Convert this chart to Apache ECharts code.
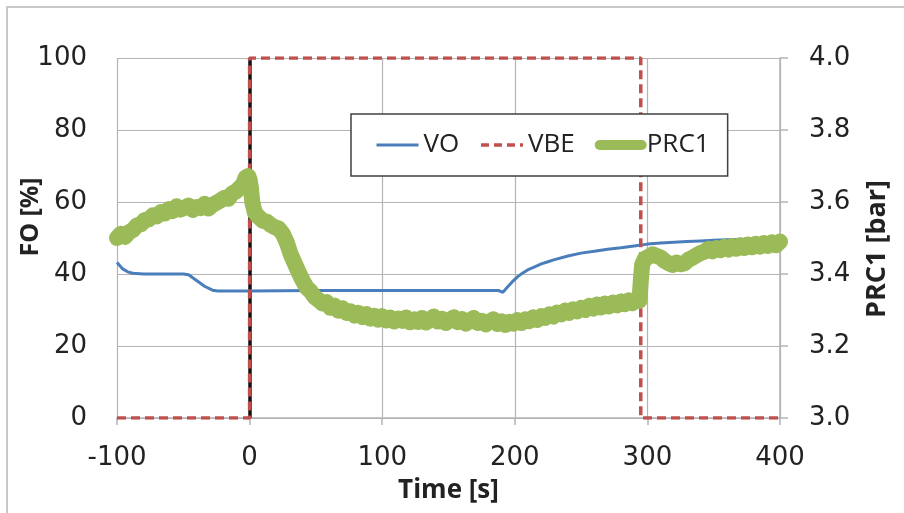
<!DOCTYPE html>
<html>
<head>
<meta charset="utf-8">
<script src="https://cdn.jsdelivr.net/npm/echarts@6/dist/echarts.min.js"></script>
<style>
  html, body { margin: 0; padding: 0; background: #ffffff; }
  #chart { width: 904px; height: 513px; }
</style>
</head>
<body>
<div id="chart"></div>
<script>
// Valve opening VO [%] over time [s]
const voTime = [-100, -96, -92, -88, -80, -70, -60, -50, -46, -40, -34, -28, -24, -10, 0, 50, 100, 150, 188, 191,
  194, 198, 202, 206, 210, 215, 220, 225, 230, 240, 250, 260, 270, 280, 290, 300, 310, 320, 330, 340, 350, 360, 380, 400];
const voValue = [43.2, 41.5, 40.6, 40.2, 40.0, 40.0, 40.0, 40.0, 39.8, 38.2, 36.6, 35.5, 35.3, 35.3, 35.3, 35.4, 35.4, 35.4, 35.4, 34.9,
  36.2, 37.8, 39.2, 40.3, 41.2, 42.0, 42.8, 43.4, 44.0, 45.0, 45.8, 46.3, 46.9, 47.3, 47.8, 48.3, 48.6, 48.8, 49.0, 49.2, 49.4, 49.5, 49.7, 49.9];

// VBE step signal [%]
const vbeTime = [-100, 0, 0, 295, 295, 400];
const vbeValue = [0, 0, 100, 100, 0, 0];

// Pressure PRC1 [bar]
const prcTime = [-100, -97, -94, -91, -88, -85, -82, -79, -76, -73, -70, -67, -64, -61, -58, -55, -52, -49, -46, -43,
  -40, -37, -34, -31, -28, -25, -22, -19, -16, -13, -10, -7, -5, -3, -1, 0, 1, 2, 4, 7,
  10, 13, 16, 19, 22, 25, 28, 31, 34, 37, 40, 43, 46, 49, 52, 55, 58, 61, 64, 67,
  70, 73, 76, 79, 82, 85, 88, 91, 94, 97, 100, 103, 106, 109, 112, 115, 118, 121, 124, 127,
  130, 133, 136, 139, 142, 145, 148, 151, 154, 157, 160, 163, 166, 169, 172, 175, 178, 181, 184, 187,
  190, 193, 196, 199, 202, 205, 208, 211, 214, 217, 220, 223, 226, 229, 232, 235, 238, 241, 244, 247,
  250, 253, 256, 259, 262, 265, 268, 271, 274, 277, 280, 283, 286, 289, 292, 294, 295, 296, 298, 301,
  304, 307, 310, 313, 316, 319, 322, 325, 328, 331, 334, 337, 340, 343, 346, 349, 352, 355, 358, 361,
  364, 367, 370, 373, 376, 379, 382, 385, 388, 391, 394, 397, 400];
const prcValue = [3.500, 3.512, 3.503, 3.516, 3.522, 3.535, 3.538, 3.550, 3.552, 3.563, 3.560, 3.572, 3.568, 3.580, 3.575, 3.588, 3.579, 3.584, 3.590, 3.578,
  3.586, 3.583, 3.595, 3.582, 3.592, 3.598, 3.604, 3.612, 3.609, 3.624, 3.630, 3.641, 3.648, 3.668, 3.672, 3.662, 3.640, 3.600, 3.570, 3.558,
  3.548, 3.545, 3.536, 3.530, 3.526, 3.512, 3.488, 3.455, 3.430, 3.405, 3.382, 3.362, 3.352, 3.336, 3.328, 3.318, 3.322, 3.306, 3.312, 3.298,
  3.305, 3.292, 3.296, 3.285, 3.292, 3.280, 3.289, 3.276, 3.284, 3.273, 3.283, 3.271, 3.279, 3.268, 3.276, 3.270, 3.279, 3.266, 3.274, 3.267,
  3.278, 3.265, 3.273, 3.282, 3.268, 3.276, 3.264, 3.272, 3.280, 3.266, 3.275, 3.262, 3.271, 3.278, 3.264, 3.270, 3.260, 3.268, 3.274, 3.261,
  3.269, 3.258, 3.267, 3.262, 3.272, 3.264, 3.274, 3.269, 3.280, 3.272, 3.283, 3.278, 3.288, 3.282, 3.293, 3.288, 3.298, 3.292, 3.302, 3.296,
  3.306, 3.300, 3.311, 3.304, 3.315, 3.307, 3.318, 3.310, 3.320, 3.313, 3.324, 3.316, 3.327, 3.319, 3.330, 3.326, 3.380, 3.425, 3.442, 3.448,
  3.455, 3.450, 3.446, 3.436, 3.430, 3.425, 3.432, 3.427, 3.430, 3.440, 3.445, 3.452, 3.458, 3.462, 3.470, 3.463, 3.472, 3.466, 3.475, 3.468,
  3.478, 3.470, 3.480, 3.472, 3.482, 3.474, 3.484, 3.476, 3.486, 3.478, 3.488, 3.480, 3.490];

// Trigger instant marked by a solid vertical line
const triggerTime = 0;

// Axis ranges and tick steps
const timeTicks = { min: -100, max: 400, step: 100 };
const foTicks = { min: 0, max: 100, step: 20 };
const prcTicks = { min: 3.0, max: 4.0, step: 0.2 };

const pairs = (xs, ys) => xs.map((x, i) => [x, ys[i]]);

const FONT = "'Open Sans', 'Noto Sans', sans-serif";
const TICK_FONT = "'DejaVu Sans', sans-serif";
const GRID_COLOR = '#b4b4b4';
const TEXT_COLOR = '#222222';
const BLUE = '#4a7ebb';
const RED = '#c0504d';
const GREEN = '#9bbb59';

const chart = echarts.init(document.getElementById('chart'), null, { renderer: 'canvas' });

chart.setOption({
  backgroundColor: '#ffffff',
  animation: false,
  textStyle: { fontFamily: FONT },
  graphic: [{
    type: 'rect',
    shape: { x: 7, y: 7, width: 1000, height: 1000 },
    style: { fill: 'none', stroke: '#c8c8c8', lineWidth: 2 },
    silent: true,
    z: -10
  }],
  grid: { left: 117, right: 124, top: 58, bottom: 95, containLabel: false, outerBoundsMode: 'none' },
  legend: {
    data: [
      { name: 'VO', lineStyle: { width: 3 } },
      { name: 'VBE', lineStyle: { width: 3.5, type: [8, 5] } },
      { name: 'PRC1', lineStyle: { width: 10, cap: 'round' } }
    ],
    left: 351,
    top: 114,
    orient: 'horizontal',
    backgroundColor: '#ffffff',
    borderColor: '#404040',
    borderWidth: 1.5,
    borderRadius: 0,
    padding: [18, 18, 18, 24],
    itemWidth: 42,
    itemHeight: 12,
    itemGap: 20,
    itemStyle: { opacity: 0 },
    textStyle: { fontFamily: FONT, fontSize: 26, color: TEXT_COLOR }
  },
  xAxis: {
    type: 'value',
    min: timeTicks.min,
    max: timeTicks.max,
    interval: timeTicks.step,
    name: 'Time [s]',
    nameLocation: 'middle',
    nameMoveOverlap: false,
    nameGap: 60,
    nameTextStyle: { fontFamily: FONT, fontSize: 26, fontWeight: 'bold', color: TEXT_COLOR },
    axisLine: { show: true, onZero: false, lineStyle: { color: GRID_COLOR, width: 1.5 } },
    axisTick: { show: true, inside: false, length: 7, lineStyle: { color: GRID_COLOR, width: 1.5 } },
    axisLabel: { margin: 27, fontFamily: TICK_FONT, fontSize: 26, color: TEXT_COLOR },
    splitLine: { show: true, lineStyle: { color: GRID_COLOR, width: 1.2 } }
  },
  yAxis: [{
    type: 'value',
    position: 'left',
    min: foTicks.min,
    max: foTicks.max,
    interval: foTicks.step,
    name: 'FO [%]',
    nameLocation: 'middle',
    nameRotate: 90,
    nameMoveOverlap: false,
    nameGap: 74,
    nameTextStyle: { fontFamily: FONT, fontSize: 25, fontWeight: 'bold', color: TEXT_COLOR, padding: [0, 0, 0, 42] },
    axisLine: { show: true, lineStyle: { color: GRID_COLOR, width: 1.5 } },
    axisTick: { show: false },
    axisLabel: { margin: 30, fontFamily: TICK_FONT, fontSize: 26, color: TEXT_COLOR },
    splitLine: { show: true, lineStyle: { color: GRID_COLOR, width: 1.2 } }
  }, {
    type: 'value',
    position: 'right',
    min: prcTicks.min,
    max: prcTicks.max,
    interval: prcTicks.step,
    name: 'PRC1 [bar]',
    nameLocation: 'middle',
    nameRotate: 90,
    nameMoveOverlap: false,
    nameGap: 84,
    nameTextStyle: { fontFamily: FONT, fontSize: 27, fontWeight: 'bold', color: TEXT_COLOR, padding: [0, 22, 0, 0] },
    axisLine: { show: true, lineStyle: { color: GRID_COLOR, width: 1.5 } },
    axisTick: { show: true, inside: false, length: 8, lineStyle: { color: GRID_COLOR, width: 1.5 } },
    axisLabel: { margin: 29, fontFamily: TICK_FONT, fontSize: 26, color: TEXT_COLOR, formatter: v => v.toFixed(1) },
    splitLine: { show: false }
  }],
  series: [{
    name: 'VO',
    type: 'line',
    yAxisIndex: 0,
    data: pairs(voTime, voValue),
    showSymbol: false,
    symbol: 'none',
    lineStyle: { color: BLUE, width: 3 },
    itemStyle: { color: BLUE },
    markLine: {
      silent: true,
      symbol: 'none',
      z: 1,
      label: { show: false },
      lineStyle: { color: '#111111', width: 3.5, type: 'solid' },
      data: [{ xAxis: triggerTime }]
    },
    z: 2
  }, {
    name: 'VBE',
    type: 'line',
    yAxisIndex: 0,
    data: pairs(vbeTime, vbeValue),
    showSymbol: false,
    symbol: 'none',
    lineStyle: { color: RED, width: 3.5, type: [9, 5] },
    itemStyle: { color: RED },
    z: 3
  }, {
    name: 'PRC1',
    type: 'line',
    yAxisIndex: 1,
    data: pairs(prcTime, prcValue),
    showSymbol: false,
    symbol: 'none',
    lineStyle: { color: GREEN, width: 16, cap: 'round', join: 'round' },
    itemStyle: { color: GREEN },
    z: 4
  }]
});
</script>
</body>
</html>
